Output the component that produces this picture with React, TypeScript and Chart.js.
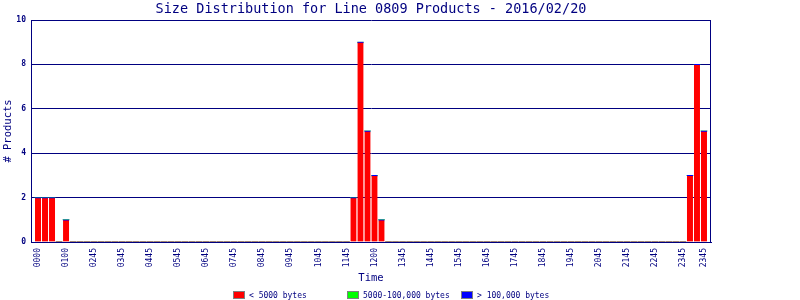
import React, { useEffect, useRef } from "react";
import { Chart, registerables } from "chart.js";

Chart.register(...registerables);

const chartTitle = "Size Distribution for Line 0809 Products - 2016/02/20";
const yAxisTitle = "# Products";
const xAxisTitle = "Time";

// one label every 4 fifteen-minute slots, plus the final slot
const tickLabels = [
  "0000", "0100", "0245", "0345", "0445", "0545", "0645", "0745", "0845",
  "0945", "1045", "1145", "1200", "1345", "1445", "1545", "1645", "1745",
  "1845", "1945", "2045", "2145", "2245", "2345", "2345",
];

// 96 fifteen-minute slots
const smallCounts = [
  2, 2, 2, 0, 1, 0, 0, 0, 0, 0, 0, 0, 0, 0, 0, 0,
  0, 0, 0, 0, 0, 0, 0, 0, 0, 0, 0, 0, 0, 0, 0, 0,
  0, 0, 0, 0, 0, 0, 0, 0, 0, 0, 0, 0, 0, 2, 9, 5,
  3, 1, 0, 0, 0, 0, 0, 0, 0, 0, 0, 0, 0, 0, 0, 0,
  0, 0, 0, 0, 0, 0, 0, 0, 0, 0, 0, 0, 0, 0, 0, 0,
  0, 0, 0, 0, 0, 0, 0, 0, 0, 0, 0, 0, 0, 3, 8, 5,
];
const mediumCounts = [
  0, 0, 0, 0, 0, 0, 0, 0, 0, 0, 0, 0, 0, 0, 0, 0,
  0, 0, 0, 0, 0, 0, 0, 0, 0, 0, 0, 0, 0, 0, 0, 0,
  0, 0, 0, 0, 0, 0, 0, 0, 0, 0, 0, 0, 0, 0, 0, 0,
  0, 0, 0, 0, 0, 0, 0, 0, 0, 0, 0, 0, 0, 0, 0, 0,
  0, 0, 0, 0, 0, 0, 0, 0, 0, 0, 0, 0, 0, 0, 0, 0,
  0, 0, 0, 0, 0, 0, 0, 0, 0, 0, 0, 0, 0, 0, 0, 0,
];
const largeCounts = [
  0, 0, 0, 0, 0, 0, 0, 0, 0, 0, 0, 0, 0, 0, 0, 0,
  0, 0, 0, 0, 0, 0, 0, 0, 0, 0, 0, 0, 0, 0, 0, 0,
  0, 0, 0, 0, 0, 0, 0, 0, 0, 0, 0, 0, 0, 0, 0, 0,
  0, 0, 0, 0, 0, 0, 0, 0, 0, 0, 0, 0, 0, 0, 0, 0,
  0, 0, 0, 0, 0, 0, 0, 0, 0, 0, 0, 0, 0, 0, 0, 0,
  0, 0, 0, 0, 0, 0, 0, 0, 0, 0, 0, 0, 0, 0, 0, 0,
];
const seriesNames = ["< 5000 bytes", "5000-100,000 bytes", "> 100,000 bytes"];
const seriesColors = ["#ff0000", "#00ff00", "#0000ff"];

const NAVY = "#000080";
const MONO = "'DejaVu Sans Mono', monospace";

function buildLabels(): string[] {
  const n = smallCounts.length;
  const out: string[] = [""];
  for (let i = 0; i < n; i++) {
    let l = "";
    if (i % 4 === 0) l = tickLabels[i / 4] ?? "";
    if (i === n - 1) l = tickLabels[tickLabels.length - 1];
    out.push(l);
  }
  out.push("");
  return out;
}
const pad = (arr: number[]) => [null, ...arr, null];

const decorPlugin = {
  id: "decor",
  afterDraw(chart: any) {
    const { ctx, chartArea } = chart;
    const { left, right, top, bottom } = chartArea;
    ctx.save();
    // right border
    ctx.strokeStyle = NAVY;
    ctx.lineWidth = 1;
    ctx.beginPath();
    ctx.moveTo(Math.round(right) - 0.5, top);
    ctx.lineTo(Math.round(right) - 0.5, bottom);
    ctx.stroke();

    ctx.fillStyle = NAVY;
    ctx.textAlign = "center";
    ctx.textBaseline = "middle";
    // title
    ctx.font = `13.5px ${MONO}`;
    ctx.fillText(chartTitle, (left + right) / 2, 9);
    // x title
    ctx.font = `10.5px ${MONO}`;
    ctx.fillText(xAxisTitle, (left + right) / 2, 278);
    // y title
    ctx.save();
    ctx.translate(8, (top + bottom) / 2);
    ctx.rotate(-Math.PI / 2);
    ctx.fillText(yAxisTitle, 0, 0);
    ctx.restore();

    // legend
    const ds = chart.data.datasets;
    ctx.font = `8px ${MONO}`;
    ctx.textAlign = "left";
    for (let i = 0; i < ds.length; i++) {
      const x = 233 + i * 114;
      ctx.fillStyle = ds[i].backgroundColor;
      ctx.fillRect(x, 291, 12, 8);
      ctx.strokeStyle = "#808080";
      ctx.strokeRect(x + 0.5, 291.5, 11, 7);
      ctx.fillStyle = NAVY;
      ctx.fillText(ds[i].label, x + 16, 295.5);
    }
    ctx.restore();
  },
};

export default function App() {
  const ref = useRef<HTMLCanvasElement | null>(null);
  useEffect(() => {
    if (!ref.current) return;
    const labels = buildLabels();
    const chart = new Chart(ref.current, {
      type: "bar",
      data: {
        labels,
        datasets: [
          {
            label: seriesNames[0],
            data: pad(smallCounts) as any,
            backgroundColor: seriesColors[0],
            borderColor: "#0000ff",
            borderWidth: ((c: any) =>
              c.raw > 0
                ? { top: 1, left: 0, right: 0, bottom: 0 }
                : 0) as any,
            borderSkipped: false as any,
            barThickness: 6,
          },
          {
            label: seriesNames[1],
            data: pad(mediumCounts) as any,
            backgroundColor: seriesColors[1],
            borderWidth: 0,
            barThickness: 6,
          },
          {
            label: seriesNames[2],
            data: pad(largeCounts) as any,
            backgroundColor: seriesColors[2],
            borderWidth: 0,
            barThickness: 6,
          },
        ],
      },
      options: {
        animation: false,
        responsive: false,
        devicePixelRatio: 1,
        layout: { padding: { left: 0, top: 20, right: 89, bottom: 0 } },
        plugins: {
          legend: { display: false },
          title: { display: false },
          tooltip: { enabled: false },
        },
        scales: {
          x: {
            stacked: true,
            offset: false,
            grid: { display: false, drawTicks: false },
            border: { display: true, color: NAVY, width: 1 },
            ticks: {
              autoSkip: false,
              minRotation: 90,
              maxRotation: 90,
              padding: 6,
              color: NAVY,
              font: { family: MONO, size: 8 },
            },
            afterFit: (s: any) => {
              s.height = 58;
            },
          },
          y: {
            stacked: true,
            min: 0,
            max: 10,
            grid: { color: NAVY, lineWidth: 1, drawTicks: false },
            border: { display: true, color: NAVY, width: 1 },
            ticks: {
              stepSize: 2,
              padding: 5,
              color: NAVY,
              font: { family: MONO, size: 8, weight: "bold" },
            },
            afterFit: (s: any) => {
              s.width = 31;
            },
          },
        },
      },
      plugins: [decorPlugin],
    });
    return () => chart.destroy();
  }, []);
  return (
    <div style={{ position: "absolute", left: 0, top: 0, width: 800, height: 300, background: "#fff" }}>
      <canvas ref={ref} width={800} height={300} style={{ display: "block" }} />
    </div>
  );
}
